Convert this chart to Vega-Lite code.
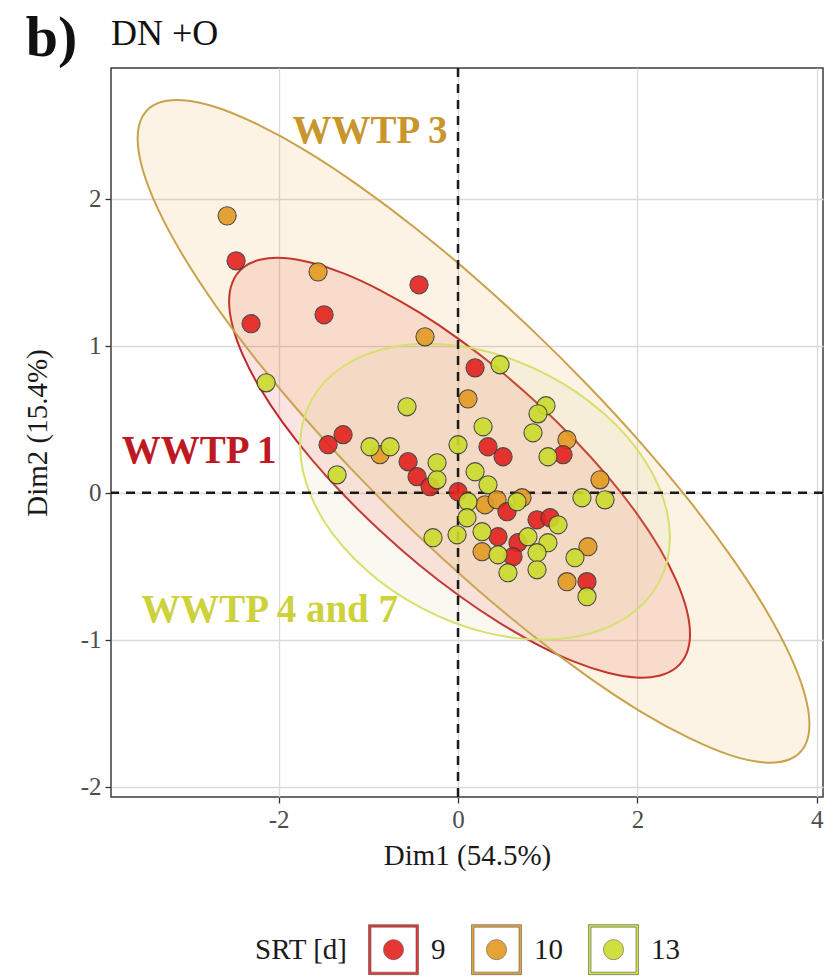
{
  "$schema": "https://vega.github.io/schema/vega-lite/v6.json",
  "width": 712,
  "height": 729,
  "autosize": {"type": "none"},
  "padding": {"left": 111, "top": 68, "right": 15, "bottom": 180},
  "config": {
    "font": "Liberation Serif",
    "view": {"stroke": "#3c3c3c", "strokeWidth": 1.5},
    "axis": {
      "grid": true,
      "gridColor": "#dadada",
      "gridWidth": 1.3,
      "domain": false,
      "tickColor": "#333333",
      "tickSize": 6,
      "tickWidth": 1.3,
      "labelFont": "Liberation Serif",
      "labelFontSize": 25,
      "labelColor": "#4d4d4d",
      "titleFont": "Liberation Serif",
      "titleFontSize": 29,
      "titleFontWeight": "normal",
      "titleColor": "#1a1a1a"
    }
  },
  "resolve": {"scale": {"fill": "independent"}},
  "layer": [
    {
      "data": {
        "values": [
          {"SRT": "9", "i": 0, "Dim1": 2.587, "Dim2": -0.961},
          {"SRT": "9", "i": 1, "Dim1": 2.548, "Dim2": -1.095},
          {"SRT": "9", "i": 2, "Dim1": 2.432, "Dim2": -1.191},
          {"SRT": "9", "i": 3, "Dim1": 2.243, "Dim2": -1.245},
          {"SRT": "9", "i": 4, "Dim1": 1.986, "Dim2": -1.257},
          {"SRT": "9", "i": 5, "Dim1": 1.669, "Dim2": -1.225},
          {"SRT": "9", "i": 6, "Dim1": 1.302, "Dim2": -1.151},
          {"SRT": "9", "i": 7, "Dim1": 0.896, "Dim2": -1.036},
          {"SRT": "9", "i": 8, "Dim1": 0.463, "Dim2": -0.885},
          {"SRT": "9", "i": 9, "Dim1": 0.017, "Dim2": -0.702},
          {"SRT": "9", "i": 10, "Dim1": -0.429, "Dim2": -0.493},
          {"SRT": "9", "i": 11, "Dim1": -0.862, "Dim2": -0.262},
          {"SRT": "9", "i": 12, "Dim1": -1.268, "Dim2": -0.019},
          {"SRT": "9", "i": 13, "Dim1": -1.635, "Dim2": 0.229},
          {"SRT": "9", "i": 14, "Dim1": -1.952, "Dim2": 0.475},
          {"SRT": "9", "i": 15, "Dim1": -2.209, "Dim2": 0.713},
          {"SRT": "9", "i": 16, "Dim1": -2.398, "Dim2": 0.935},
          {"SRT": "9", "i": 17, "Dim1": -2.514, "Dim2": 1.133},
          {"SRT": "9", "i": 18, "Dim1": -2.553, "Dim2": 1.301},
          {"SRT": "9", "i": 19, "Dim1": -2.514, "Dim2": 1.435},
          {"SRT": "9", "i": 20, "Dim1": -2.398, "Dim2": 1.531},
          {"SRT": "9", "i": 21, "Dim1": -2.209, "Dim2": 1.585},
          {"SRT": "9", "i": 22, "Dim1": -1.952, "Dim2": 1.597},
          {"SRT": "9", "i": 23, "Dim1": -1.635, "Dim2": 1.565},
          {"SRT": "9", "i": 24, "Dim1": -1.268, "Dim2": 1.491},
          {"SRT": "9", "i": 25, "Dim1": -0.862, "Dim2": 1.376},
          {"SRT": "9", "i": 26, "Dim1": -0.429, "Dim2": 1.225},
          {"SRT": "9", "i": 27, "Dim1": 0.017, "Dim2": 1.042},
          {"SRT": "9", "i": 28, "Dim1": 0.463, "Dim2": 0.833},
          {"SRT": "9", "i": 29, "Dim1": 0.896, "Dim2": 0.602},
          {"SRT": "9", "i": 30, "Dim1": 1.302, "Dim2": 0.359},
          {"SRT": "9", "i": 31, "Dim1": 1.669, "Dim2": 0.111},
          {"SRT": "9", "i": 32, "Dim1": 1.986, "Dim2": -0.135},
          {"SRT": "9", "i": 33, "Dim1": 2.243, "Dim2": -0.373},
          {"SRT": "9", "i": 34, "Dim1": 2.432, "Dim2": -0.595},
          {"SRT": "9", "i": 35, "Dim1": 2.548, "Dim2": -0.793},
          {"SRT": "10", "i": 0, "Dim1": 3.919, "Dim2": -1.575},
          {"SRT": "10", "i": 1, "Dim1": 3.862, "Dim2": -1.728},
          {"SRT": "10", "i": 2, "Dim1": 3.693, "Dim2": -1.815},
          {"SRT": "10", "i": 3, "Dim1": 3.417, "Dim2": -1.835},
          {"SRT": "10", "i": 4, "Dim1": 3.042, "Dim2": -1.787},
          {"SRT": "10", "i": 5, "Dim1": 2.581, "Dim2": -1.670},
          {"SRT": "10", "i": 6, "Dim1": 2.046, "Dim2": -1.492},
          {"SRT": "10", "i": 7, "Dim1": 1.454, "Dim2": -1.254},
          {"SRT": "10", "i": 8, "Dim1": 0.823, "Dim2": -0.966},
          {"SRT": "10", "i": 9, "Dim1": 0.173, "Dim2": -0.636},
          {"SRT": "10", "i": 10, "Dim1": -0.477, "Dim2": -0.274},
          {"SRT": "10", "i": 11, "Dim1": -1.108, "Dim2": 0.110},
          {"SRT": "10", "i": 12, "Dim1": -1.700, "Dim2": 0.502},
          {"SRT": "10", "i": 13, "Dim1": -2.235, "Dim2": 0.892},
          {"SRT": "10", "i": 14, "Dim1": -2.696, "Dim2": 1.267},
          {"SRT": "10", "i": 15, "Dim1": -3.071, "Dim2": 1.617},
          {"SRT": "10", "i": 16, "Dim1": -3.347, "Dim2": 1.931},
          {"SRT": "10", "i": 17, "Dim1": -3.516, "Dim2": 2.198},
          {"SRT": "10", "i": 18, "Dim1": -3.573, "Dim2": 2.411},
          {"SRT": "10", "i": 19, "Dim1": -3.516, "Dim2": 2.564},
          {"SRT": "10", "i": 20, "Dim1": -3.347, "Dim2": 2.651},
          {"SRT": "10", "i": 21, "Dim1": -3.071, "Dim2": 2.671},
          {"SRT": "10", "i": 22, "Dim1": -2.696, "Dim2": 2.623},
          {"SRT": "10", "i": 23, "Dim1": -2.235, "Dim2": 2.506},
          {"SRT": "10", "i": 24, "Dim1": -1.700, "Dim2": 2.328},
          {"SRT": "10", "i": 25, "Dim1": -1.108, "Dim2": 2.090},
          {"SRT": "10", "i": 26, "Dim1": -0.477, "Dim2": 1.802},
          {"SRT": "10", "i": 27, "Dim1": 0.173, "Dim2": 1.472},
          {"SRT": "10", "i": 28, "Dim1": 0.823, "Dim2": 1.110},
          {"SRT": "10", "i": 29, "Dim1": 1.454, "Dim2": 0.726},
          {"SRT": "10", "i": 30, "Dim1": 2.046, "Dim2": 0.334},
          {"SRT": "10", "i": 31, "Dim1": 2.581, "Dim2": -0.056},
          {"SRT": "10", "i": 32, "Dim1": 3.042, "Dim2": -0.431},
          {"SRT": "10", "i": 33, "Dim1": 3.417, "Dim2": -0.781},
          {"SRT": "10", "i": 34, "Dim1": 3.693, "Dim2": -1.095},
          {"SRT": "10", "i": 35, "Dim1": 3.862, "Dim2": -1.362},
          {"SRT": "13", "i": 0, "Dim1": 2.363, "Dim2": -0.305},
          {"SRT": "13", "i": 1, "Dim1": 2.332, "Dim2": -0.466},
          {"SRT": "13", "i": 2, "Dim1": 2.239, "Dim2": -0.613},
          {"SRT": "13", "i": 3, "Dim1": 2.087, "Dim2": -0.742},
          {"SRT": "13", "i": 4, "Dim1": 1.881, "Dim2": -0.847},
          {"SRT": "13", "i": 5, "Dim1": 1.626, "Dim2": -0.927},
          {"SRT": "13", "i": 6, "Dim1": 1.332, "Dim2": -0.978},
          {"SRT": "13", "i": 7, "Dim1": 1.006, "Dim2": -0.999},
          {"SRT": "13", "i": 8, "Dim1": 0.659, "Dim2": -0.989},
          {"SRT": "13", "i": 9, "Dim1": 0.301, "Dim2": -0.950},
          {"SRT": "13", "i": 10, "Dim1": -0.057, "Dim2": -0.881},
          {"SRT": "13", "i": 11, "Dim1": -0.404, "Dim2": -0.785},
          {"SRT": "13", "i": 12, "Dim1": -0.730, "Dim2": -0.666},
          {"SRT": "13", "i": 13, "Dim1": -1.024, "Dim2": -0.525},
          {"SRT": "13", "i": 14, "Dim1": -1.278, "Dim2": -0.369},
          {"SRT": "13", "i": 15, "Dim1": -1.485, "Dim2": -0.202},
          {"SRT": "13", "i": 16, "Dim1": -1.637, "Dim2": -0.027},
          {"SRT": "13", "i": 17, "Dim1": -1.730, "Dim2": 0.148},
          {"SRT": "13", "i": 18, "Dim1": -1.761, "Dim2": 0.319},
          {"SRT": "13", "i": 19, "Dim1": -1.730, "Dim2": 0.480},
          {"SRT": "13", "i": 20, "Dim1": -1.637, "Dim2": 0.627},
          {"SRT": "13", "i": 21, "Dim1": -1.485, "Dim2": 0.756},
          {"SRT": "13", "i": 22, "Dim1": -1.278, "Dim2": 0.861},
          {"SRT": "13", "i": 23, "Dim1": -1.024, "Dim2": 0.941},
          {"SRT": "13", "i": 24, "Dim1": -0.730, "Dim2": 0.992},
          {"SRT": "13", "i": 25, "Dim1": -0.404, "Dim2": 1.013},
          {"SRT": "13", "i": 26, "Dim1": -0.057, "Dim2": 1.003},
          {"SRT": "13", "i": 27, "Dim1": 0.301, "Dim2": 0.964},
          {"SRT": "13", "i": 28, "Dim1": 0.659, "Dim2": 0.895},
          {"SRT": "13", "i": 29, "Dim1": 1.006, "Dim2": 0.799},
          {"SRT": "13", "i": 30, "Dim1": 1.332, "Dim2": 0.680},
          {"SRT": "13", "i": 31, "Dim1": 1.626, "Dim2": 0.539},
          {"SRT": "13", "i": 32, "Dim1": 1.881, "Dim2": 0.383},
          {"SRT": "13", "i": 33, "Dim1": 2.087, "Dim2": 0.216},
          {"SRT": "13", "i": 34, "Dim1": 2.239, "Dim2": 0.041},
          {"SRT": "13", "i": 35, "Dim1": 2.332, "Dim2": -0.134}
        ]
      },
      "mark": {"type": "line", "interpolate": "cardinal-closed", "fillOpacity": 0.12, "strokeWidth": 2},
      "encoding": {
        "x": {
          "field": "Dim1", "type": "quantitative",
          "scale": {"domain": [-3.87, 4.07], "nice": false, "zero": false},
          "axis": {"values": [-2, 0, 2, 4], "title": "Dim1 (54.5%)", "labelExpr": "'' + datum.value", "labelPadding": 4, "titlePadding": 9}
        },
        "y": {
          "field": "Dim2", "type": "quantitative",
          "scale": {"domain": [-2.07, 2.89], "nice": false, "zero": false},
          "axis": {"values": [-2, -1, 0, 1, 2], "title": "Dim2 (15.4%)", "labelExpr": "'' + datum.value", "labelPadding": 4, "titlePadding": 28}
        },
        "order": {"field": "i", "type": "quantitative"},
        "fill": {
          "field": "SRT", "type": "nominal",
          "scale": {"domain": ["9", "10", "13"], "range": ["#e3221e", "#e69a22", "#d8cf8a"]},
          "legend": null
        },
        "stroke": {
          "field": "SRT", "type": "nominal",
          "scale": {"domain": ["9", "10", "13"], "range": ["#c0282d", "#c9a24c", "#d6e06e"]},
          "legend": null
        }
      }
    },
    {
      "data": {"values": [{"Dim1": 0}]},
      "mark": {"type": "rule", "strokeDash": [9, 7], "strokeWidth": 2.5, "color": "#1a1a1a"},
      "encoding": {
        "x": {
          "field": "Dim1", "type": "quantitative",
          "scale": {"domain": [-3.87, 4.07], "nice": false, "zero": false},
          "axis": {"values": [-2, 0, 2, 4], "title": "Dim1 (54.5%)", "labelExpr": "'' + datum.value", "labelPadding": 4, "titlePadding": 9}
        }
      }
    },
    {
      "data": {"values": [{"Dim2": 0}]},
      "mark": {"type": "rule", "strokeDash": [9, 7], "strokeWidth": 2.5, "color": "#1a1a1a"},
      "encoding": {
        "y": {
          "field": "Dim2", "type": "quantitative",
          "scale": {"domain": [-2.07, 2.89], "nice": false, "zero": false},
          "axis": {"values": [-2, -1, 0, 1, 2], "title": "Dim2 (15.4%)", "labelExpr": "'' + datum.value", "labelPadding": 4, "titlePadding": 28}
        }
      }
    },
    {
      "data": {
        "values": [
          {"SRT": "10", "Dim1": -2.575, "Dim2": 1.884},
          {"SRT": "9", "Dim1": -2.475, "Dim2": 1.578},
          {"SRT": "9", "Dim1": -2.308, "Dim2": 1.150},
          {"SRT": "10", "Dim1": -1.561, "Dim2": 1.503},
          {"SRT": "9", "Dim1": -1.494, "Dim2": 1.211},
          {"SRT": "9", "Dim1": -0.435, "Dim2": 1.415},
          {"SRT": "10", "Dim1": -0.368, "Dim2": 1.061},
          {"SRT": "13", "Dim1": -2.140, "Dim2": 0.748},
          {"SRT": "9", "Dim1": 0.190, "Dim2": 0.850},
          {"SRT": "13", "Dim1": 0.468, "Dim2": 0.871},
          {"SRT": "13", "Dim1": -0.569, "Dim2": 0.585},
          {"SRT": "10", "Dim1": 0.111, "Dim2": 0.639},
          {"SRT": "13", "Dim1": 0.981, "Dim2": 0.592},
          {"SRT": "13", "Dim1": 0.892, "Dim2": 0.537},
          {"SRT": "13", "Dim1": 0.836, "Dim2": 0.408},
          {"SRT": "13", "Dim1": 0.279, "Dim2": 0.449},
          {"SRT": "9", "Dim1": 0.334, "Dim2": 0.313},
          {"SRT": "9", "Dim1": 0.502, "Dim2": 0.245},
          {"SRT": "10", "Dim1": 1.215, "Dim2": 0.361},
          {"SRT": "9", "Dim1": 1.171, "Dim2": 0.259},
          {"SRT": "13", "Dim1": 1.003, "Dim2": 0.245},
          {"SRT": "13", "Dim1": 0.000, "Dim2": 0.327},
          {"SRT": "9", "Dim1": -1.282, "Dim2": 0.395},
          {"SRT": "9", "Dim1": -1.449, "Dim2": 0.327},
          {"SRT": "10", "Dim1": -0.870, "Dim2": 0.259},
          {"SRT": "13", "Dim1": -0.981, "Dim2": 0.313},
          {"SRT": "13", "Dim1": -0.758, "Dim2": 0.313},
          {"SRT": "13", "Dim1": -1.349, "Dim2": 0.122},
          {"SRT": "9", "Dim1": -0.557, "Dim2": 0.211},
          {"SRT": "9", "Dim1": -0.457, "Dim2": 0.109},
          {"SRT": "9", "Dim1": -0.312, "Dim2": 0.041},
          {"SRT": "13", "Dim1": -0.234, "Dim2": 0.204},
          {"SRT": "13", "Dim1": -0.234, "Dim2": 0.088},
          {"SRT": "9", "Dim1": 0.000, "Dim2": 0.007},
          {"SRT": "13", "Dim1": 0.190, "Dim2": 0.143},
          {"SRT": "13", "Dim1": 0.334, "Dim2": 0.054},
          {"SRT": "10", "Dim1": 0.301, "Dim2": -0.082},
          {"SRT": "10", "Dim1": 0.435, "Dim2": -0.048},
          {"SRT": "13", "Dim1": 0.111, "Dim2": -0.061},
          {"SRT": "9", "Dim1": 0.546, "Dim2": -0.129},
          {"SRT": "10", "Dim1": 0.714, "Dim2": -0.034},
          {"SRT": "13", "Dim1": 0.658, "Dim2": -0.061},
          {"SRT": "13", "Dim1": 0.100, "Dim2": -0.170},
          {"SRT": "13", "Dim1": 1.382, "Dim2": -0.034},
          {"SRT": "13", "Dim1": 1.639, "Dim2": -0.048},
          {"SRT": "10", "Dim1": 1.583, "Dim2": 0.088},
          {"SRT": "9", "Dim1": 0.881, "Dim2": -0.184},
          {"SRT": "9", "Dim1": 1.026, "Dim2": -0.170},
          {"SRT": "13", "Dim1": 1.115, "Dim2": -0.218},
          {"SRT": "9", "Dim1": 0.669, "Dim2": -0.340},
          {"SRT": "9", "Dim1": 0.613, "Dim2": -0.435},
          {"SRT": "9", "Dim1": 0.446, "Dim2": -0.299},
          {"SRT": "13", "Dim1": 0.780, "Dim2": -0.299},
          {"SRT": "13", "Dim1": 1.003, "Dim2": -0.340},
          {"SRT": "13", "Dim1": 0.881, "Dim2": -0.408},
          {"SRT": "13", "Dim1": 0.268, "Dim2": -0.265},
          {"SRT": "10", "Dim1": 0.268, "Dim2": -0.401},
          {"SRT": "13", "Dim1": 0.446, "Dim2": -0.422},
          {"SRT": "13", "Dim1": 0.557, "Dim2": -0.544},
          {"SRT": "13", "Dim1": 0.881, "Dim2": -0.524},
          {"SRT": "13", "Dim1": -0.279, "Dim2": -0.306},
          {"SRT": "13", "Dim1": -0.011, "Dim2": -0.286},
          {"SRT": "10", "Dim1": 1.449, "Dim2": -0.367},
          {"SRT": "13", "Dim1": 1.304, "Dim2": -0.442},
          {"SRT": "10", "Dim1": 1.215, "Dim2": -0.605},
          {"SRT": "9", "Dim1": 1.438, "Dim2": -0.605},
          {"SRT": "13", "Dim1": 1.438, "Dim2": -0.707}
        ]
      },
      "mark": {"type": "point", "filled": true, "shape": "circle", "size": 330, "stroke": "#3a3a3a", "strokeWidth": 1.1, "opacity": 0.9},
      "encoding": {
        "x": {
          "field": "Dim1", "type": "quantitative",
          "scale": {"domain": [-3.87, 4.07], "nice": false, "zero": false},
          "axis": {"values": [-2, 0, 2, 4], "title": "Dim1 (54.5%)", "labelExpr": "'' + datum.value", "labelPadding": 4, "titlePadding": 9}
        },
        "y": {
          "field": "Dim2", "type": "quantitative",
          "scale": {"domain": [-2.07, 2.89], "nice": false, "zero": false},
          "axis": {"values": [-2, -1, 0, 1, 2], "title": "Dim2 (15.4%)", "labelExpr": "'' + datum.value", "labelPadding": 4, "titlePadding": 28}
        },
        "fill": {
          "field": "SRT", "type": "nominal",
          "scale": {"domain": ["9", "10", "13"], "range": ["#e3221e", "#e39a22", "#cadc2c"]},
          "legend": {
            "title": "SRT [d]",
            "orient": "none",
            "legendX": 144,
            "legendY": 856,
            "direction": "horizontal",
            "titleOrient": "left",
            "titleFontSize": 29,
            "titleFontWeight": "normal",
            "titleColor": "#1a1a1a",
            "titlePadding": 20,
            "labelFontSize": 29,
            "labelColor": "#1a1a1a",
            "labelOffset": 12,
            "columnPadding": 24,
            "symbolType": "M-1,-1H1V1H-1Z M-0.9,-0.9V0.9H0.9V-0.9Z M0.4,0A0.4,0.4,0,1,1,-0.4,0A0.4,0.4,0,1,1,0.4,0Z",
            "symbolSize": 2500,
            "symbolStrokeColor": "#444444",
            "symbolStrokeWidth": 0.6
          }
        }
      }
    },
    {
      "data": {
        "values": [
          {"label": "WWTP 3", "Dim1": -0.981, "Dim2": 2.381},
          {"label": "WWTP 1", "Dim1": -2.887, "Dim2": 0.204},
          {"label": "WWTP 4 and 7", "Dim1": -2.101, "Dim2": -0.878}
        ]
      },
      "mark": {"type": "text", "fontSize": 39, "fontWeight": "bold", "align": "center", "baseline": "alphabetic"},
      "encoding": {
        "x": {
          "field": "Dim1", "type": "quantitative",
          "scale": {"domain": [-3.87, 4.07], "nice": false, "zero": false},
          "axis": {"values": [-2, 0, 2, 4], "title": "Dim1 (54.5%)", "labelExpr": "'' + datum.value", "labelPadding": 4, "titlePadding": 9}
        },
        "y": {
          "field": "Dim2", "type": "quantitative",
          "scale": {"domain": [-2.07, 2.89], "nice": false, "zero": false},
          "axis": {"values": [-2, -1, 0, 1, 2], "title": "Dim2 (15.4%)", "labelExpr": "'' + datum.value", "labelPadding": 4, "titlePadding": 28}
        },
        "text": {"field": "label"},
        "color": {
          "field": "label", "type": "nominal",
          "scale": {"domain": ["WWTP 3", "WWTP 1", "WWTP 4 and 7"], "range": ["#c8962d", "#be1923", "#cdd23c"]},
          "legend": null
        }
      }
    },
    {
      "data": {"values": [{"label": "b)", "Dim1": -4.532, "Dim2": 2.973}]},
      "mark": {"type": "text", "fontSize": 58, "fontWeight": "bold", "align": "center", "baseline": "alphabetic", "color": "#111111"},
      "encoding": {
        "x": {
          "field": "Dim1", "type": "quantitative",
          "scale": {"domain": [-3.87, 4.07], "nice": false, "zero": false},
          "axis": {"values": [-2, 0, 2, 4], "title": "Dim1 (54.5%)", "labelExpr": "'' + datum.value", "labelPadding": 4, "titlePadding": 9}
        },
        "y": {
          "field": "Dim2", "type": "quantitative",
          "scale": {"domain": [-2.07, 2.89], "nice": false, "zero": false},
          "axis": {"values": [-2, -1, 0, 1, 2], "title": "Dim2 (15.4%)", "labelExpr": "'' + datum.value", "labelPadding": 4, "titlePadding": 28}
        },
        "text": {"field": "label"}
      }
    },
    {
      "data": {"values": [{"label": "DN +O", "Dim1": -3.87, "Dim2": 3.048}]},
      "mark": {"type": "text", "fontSize": 36, "align": "left", "baseline": "alphabetic", "color": "#111111"},
      "encoding": {
        "x": {
          "field": "Dim1", "type": "quantitative",
          "scale": {"domain": [-3.87, 4.07], "nice": false, "zero": false},
          "axis": {"values": [-2, 0, 2, 4], "title": "Dim1 (54.5%)", "labelExpr": "'' + datum.value", "labelPadding": 4, "titlePadding": 9}
        },
        "y": {
          "field": "Dim2", "type": "quantitative",
          "scale": {"domain": [-2.07, 2.89], "nice": false, "zero": false},
          "axis": {"values": [-2, -1, 0, 1, 2], "title": "Dim2 (15.4%)", "labelExpr": "'' + datum.value", "labelPadding": 4, "titlePadding": 28}
        },
        "text": {"field": "label"}
      }
    }
  ]
}
